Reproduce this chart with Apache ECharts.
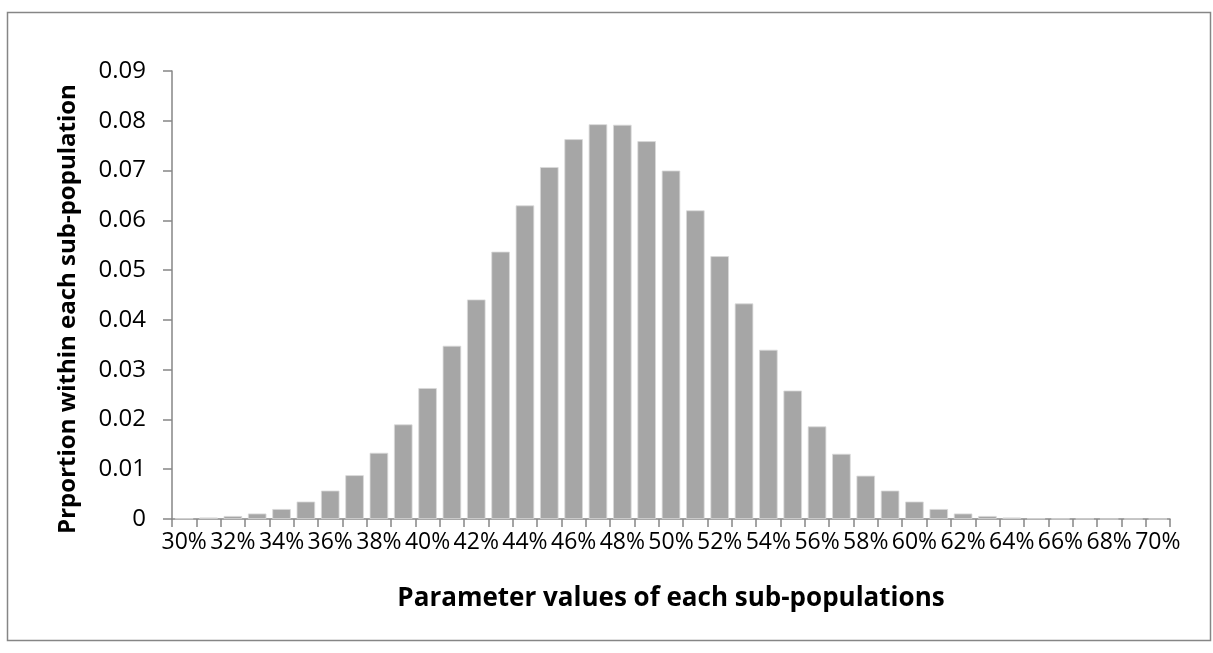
<!DOCTYPE html>
<html>
<head>
<meta charset="utf-8">
<script src="https://cdn.jsdelivr.net/npm/echarts@6/dist/echarts.min.js"></script>
<style>
html,body{margin:0;padding:0;background:#fff;}
#c{width:1213px;height:653px;}
</style>
</head>
<body>
<div id="c"></div>
<script>
var categories = ['30%','31%','32%','33%','34%','35%','36%','37%','38%','39%','40%','41%','42%','43%','44%','45%','46%','47%','48%','49%','50%','51%','52%','53%','54%','55%','56%','57%','58%','59%','60%','61%','62%','63%','64%','65%','66%','67%','68%','69%','70%'];
var proportions = [0.0001,0.0003,0.0006,0.0011,0.0020,0.0035,0.0057,0.0088,0.0133,0.0190,0.0263,0.0348,0.0441,0.0537,0.0630,0.0707,0.0763,0.0793,0.0792,0.0759,0.0700,0.0620,0.0528,0.0433,0.0340,0.0258,0.0186,0.0131,0.0087,0.0057,0.0035,0.0020,0.0011,0.0006,0.0003,0.0001,0.00005,0.00003,0.00002,0.00001,0.00001];
var yTicks = [0,0.01,0.02,0.03,0.04,0.05,0.06,0.07,0.08,0.09];
var xTitle = 'Parameter values of each sub-populations';
var yTitle = 'Prportion within each sub-population';

var font = '"Open Sans", Lato, sans-serif';
var chart = echarts.init(document.getElementById('c'));
chart.setOption({
  animation: false,
  grid: {left: 172, right: 43, top: 71, bottom: 134},
  graphic: [
    {type: 'rect', shape: {x: 7.5, y: 12.5, width: 1203, height: 628}, style: {fill: 'none', stroke: '#868686', lineWidth: 1.5}, silent: true},
    {type: 'text', x: 671, y: 599, style: {text: xTitle, font: 'bold 26px ' + font, fill: '#000', align: 'center', verticalAlign: 'middle'}},
    {type: 'text', x: 68, y: 309, rotation: Math.PI / 2, style: {text: yTitle, font: 'bold 24px ' + font, fill: '#000', align: 'center', verticalAlign: 'middle'}}
  ],
  xAxis: {
    type: 'category',
    data: categories,
    axisLine: {lineStyle: {color: '#868686', width: 1.5}},
    axisTick: {show: true, length: 8, interval: 0, alignWithLabel: false, lineStyle: {color: '#868686', width: 1.5}},
    axisLabel: {interval: 1, margin: 12, color: '#000', fontSize: 23, fontFamily: font}
  },
  yAxis: {
    type: 'value',
    min: yTicks[0],
    max: yTicks[yTicks.length - 1],
    interval: 0.01,
    splitLine: {show: false},
    axisLine: {show: true, lineStyle: {color: '#868686', width: 1.5}},
    axisTick: {show: true, length: 9, lineStyle: {color: '#868686', width: 1.5}},
    axisLabel: {margin: 26, color: '#000', fontSize: 24, fontFamily: font,
      formatter: function (v) { return v === 0 ? '0' : v.toFixed(2); }}
  },
  series: [{
    type: 'bar',
    data: proportions,
    barCategoryGap: '24%',
    itemStyle: {color: '#A6A6A6', borderColor: '#d9d9d9', borderWidth: 0.8}
  }]
});
</script>
</body>
</html>
